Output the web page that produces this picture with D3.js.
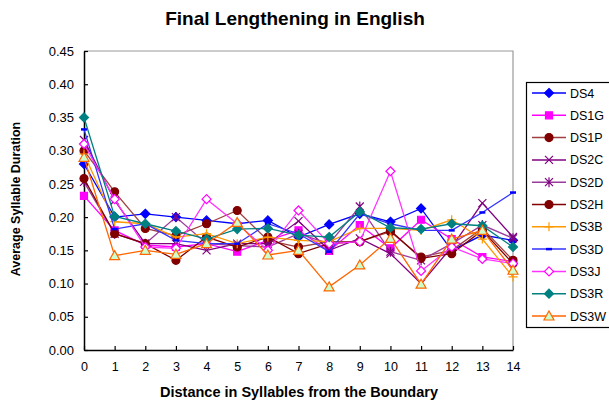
<!DOCTYPE html>
<html><head><meta charset="utf-8">
<script src="https://cdn.jsdelivr.net/npm/d3@7"></script>
<style>body{margin:0;background:#fff;}svg{display:block;font-family:Arial,"Liberation Sans",sans-serif;}</style>
</head><body>
<svg id="c" width="609" height="400"></svg>
<script>
const distances = [0,1,2,3,4,5,6,7,8,9,10,11,12,13,14];
const yTicks = [0,0.05,0.10,0.15,0.20,0.25,0.30,0.35,0.40,0.45];
const seriesNames = ["DS4","DS1G","DS1P","DS2C","DS2D","DS2H","DS3B","DS3D","DS3J","DS3R","DS3W"];
const DS4  = [0.280,0.200,0.205,0.200,0.195,0.190,0.195,0.170,0.189,0.205,0.193,0.213,0.150,0.173,0.165];
const DS1G = [0.232,0.180,0.158,0.155,0.160,0.148,0.165,0.180,0.149,0.188,0.153,0.196,0.167,0.140,0.133];
const DS1P = [0.300,0.238,0.183,0.172,0.190,0.210,0.165,0.155,0.163,0.163,0.178,0.140,0.150,0.183,0.135];
const DS2C = [0.316,0.225,0.160,0.160,0.150,0.160,0.160,0.194,0.150,0.168,0.145,0.100,0.155,0.221,0.170];
const DS2D = [0.253,0.175,0.160,0.200,0.160,0.157,0.155,0.175,0.160,0.216,0.148,0.135,0.160,0.188,0.168];
const DS2H = [0.258,0.175,0.160,0.135,0.170,0.155,0.170,0.145,0.160,0.163,0.180,0.138,0.145,0.180,0.130];
const DS3B = [0.295,0.193,0.190,0.170,0.175,0.160,0.170,0.165,0.163,0.183,0.183,0.180,0.196,0.167,0.110];
const DS3D = [0.332,0.182,0.190,0.165,0.160,0.160,0.190,0.175,0.148,0.205,0.190,0.180,0.180,0.207,0.237];
const DS3J = [0.310,0.227,0.155,0.153,0.227,0.190,0.150,0.210,0.160,0.163,0.269,0.119,0.155,0.137,0.130];
const DS3R = [0.350,0.201,0.190,0.179,0.167,0.182,0.183,0.173,0.170,0.208,0.184,0.182,0.190,0.187,0.155];
const DS3W = [0.290,0.142,0.150,0.144,0.160,0.192,0.143,0.150,0.095,0.128,0.168,0.099,0.167,0.180,0.120];
const seriesValues = [DS4,DS1G,DS1P,DS2C,DS2D,DS2H,DS3B,DS3D,DS3J,DS3R,DS3W];

const styles = {
  DS4:{line:"#0000FF",mk:"diamond",fill:"#0000FF",stroke:"#0000FF"},
  DS1G:{line:"#FF00FF",mk:"square",fill:"#FF00FF",stroke:"#FF00FF"},
  DS1P:{line:"#A04040",mk:"circle",fill:"#800000",stroke:"#800000"},
  DS2C:{line:"#800080",mk:"x",fill:"none",stroke:"#800080"},
  DS2D:{line:"#9A3C9A",mk:"star",fill:"none",stroke:"#800080"},
  DS2H:{line:"#800000",mk:"circle",fill:"#800000",stroke:"#800000"},
  DS3B:{line:"#FF9900",mk:"plus",fill:"none",stroke:"#FF9900"},
  DS3D:{line:"#3333FF",mk:"dash",fill:"none",stroke:"#0000FF"},
  DS3J:{line:"#FF33FF",mk:"odiamond",fill:"#FFFFFF",stroke:"#FF00FF"},
  DS3R:{line:"#008080",mk:"diamond",fill:"#008080",stroke:"#008080"},
  DS3W:{line:"#FF6600",mk:"triangle",fill:"#CCFFCC",stroke:"#FF6600"}
};

const svg = d3.select("#c");
const x = d3.scaleLinear().domain([0,14]).range([84,513]);
const y = d3.scaleLinear().domain([0,0.45]).range([350,51]);

svg.append("path").attr("d",`M${x(0)},${y(0.45)}H${x(14)}V${y(0)}`)
  .attr("fill","none").attr("stroke","#9a9a9a").attr("stroke-width",1.2);

const yAxis = d3.axisLeft(y).tickValues(yTicks).tickFormat(d3.format(".2f")).tickSizeInner(-4).tickSizeOuter(0).tickPadding(10);
const gy = svg.append("g").attr("transform",`translate(${x(0)},0)`).call(yAxis);
const xAxis = d3.axisBottom(x).tickValues(distances).tickFormat(d3.format("d")).tickSizeInner(-4).tickSizeOuter(0).tickPadding(12);
const gx = svg.append("g").attr("transform",`translate(0,${y(0)})`).call(xAxis);
[gx,gy].forEach(g=>{
  g.select(".domain").attr("stroke","#000").attr("stroke-width",1.5);
  g.selectAll(".tick line").attr("stroke","#000").attr("stroke-width",1.2);
  g.selectAll(".tick text").attr("fill","#000").attr("font-family","Arial, 'Liberation Sans', sans-serif");
});
gx.selectAll(".tick text").attr("font-size",12.5);
gy.selectAll(".tick text").attr("font-size",13);

function markerPath(type){
  switch(type){
    case "diamond": case "odiamond": return "M0,-4.5L4.5,0L0,4.5L-4.5,0Z";
    case "square": return "M-3.5,-3.5H3.5V3.5H-3.5Z";
    case "circle": return d3.symbol(d3.symbolCircle,50)();
    case "x": return "M-4,-4L4,4M-4,4L4,-4";
    case "star": return "M-4,-4L4,4M-4,4L4,-4M0,-5V5";
    case "plus": return "M-4.5,0H4.5M0,-4.5V4.5";
    case "dash": return "M-3,0H3";
    case "triangle": return "M0,-5L5,4H-5Z";
  }
}

const line = d3.line().x((d,i)=>x(distances[i])).y(d=>y(d));
const plot = svg.append("g");
seriesNames.forEach((name,k)=>{
  const st = styles[name];
  const vals = seriesValues[k];
  const g = plot.append("g");
  g.append("path").datum(vals).attr("d",line).attr("fill","none")
    .attr("stroke",st.line).attr("stroke-width",1.3);
  g.selectAll("path.m").data(vals).join("path").attr("class","m")
    .attr("transform",(d,i)=>`translate(${x(distances[i])},${y(d)})`)
    .attr("d",markerPath(st.mk))
    .attr("fill",st.fill).attr("stroke",st.stroke)
    .attr("stroke-width",st.mk==="dash"?2.5:1.2);
});

const lg = svg.append("g");
lg.append("rect").attr("x",526.5).attr("y",82.5).attr("width",100).attr("height",245)
  .attr("fill","#fff").attr("stroke","#000").attr("stroke-width",1.2);
seriesNames.forEach((name,k)=>{
  const st = styles[name];
  const yy = 93 + k*22.3;
  lg.append("line").attr("x1",532).attr("x2",566).attr("y1",yy).attr("y2",yy)
    .attr("stroke",st.line).attr("stroke-width",1.5);
  lg.append("path").attr("transform",`translate(549,${yy})`).attr("d",markerPath(st.mk))
    .attr("fill",st.fill).attr("stroke",st.stroke).attr("stroke-width",st.mk==="dash"?2.5:1.2);
  lg.append("text").attr("x",570).attr("y",yy+4.5).attr("font-size",12.5).text(name);
});

svg.append("text").attr("x",295).attr("y",25).attr("text-anchor","middle")
  .attr("font-size",19).attr("font-weight","bold").text("Final Lengthening in English");
svg.append("text").attr("transform","translate(20,199) rotate(-90)").attr("text-anchor","middle")
  .attr("font-size",12.5).attr("font-weight","bold").text("Average Syllable Duration");
svg.append("text").attr("x",299).attr("y",397).attr("text-anchor","middle")
  .attr("font-size",14.5).attr("font-weight","bold").text("Distance in Syllables from the Boundary");
</script>
</body></html>
